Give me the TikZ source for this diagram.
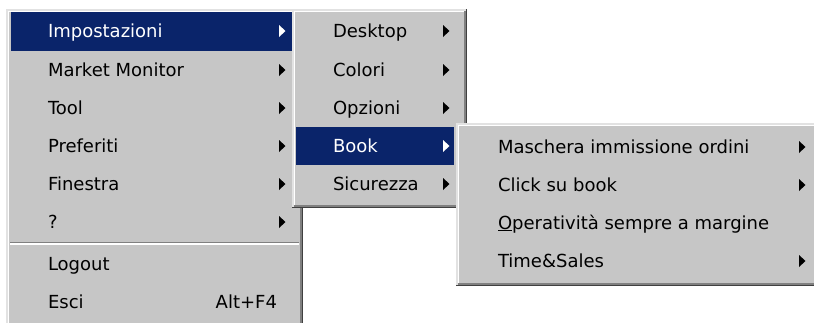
\documentclass[tikz,border=0pt]{standalone}
\usepackage{fontspec}
\setmainfont{DejaVu Sans}
\usetikzlibrary{positioning}
\definecolor{face}{HTML}{C6C6C6}
\definecolor{sel}{HTML}{0A246A}
\definecolor{midgrey}{HTML}{808080}
\definecolor{dark}{HTML}{404040}
\definecolor{lite}{HTML}{E2E2E2}

\begin{document}
\begin{tikzpicture}[
    x=1pt, y=-1pt,
    font=\fontsize{18}{21}\selectfont,
    item/.style={anchor=base west, inner sep=0pt, outer sep=0pt},
    keys/.style={anchor=base east, inner sep=0pt, outer sep=0pt},
    hilite/.style={fill=sel},
    panel/.style={fill=face},
    edge/.style={line width=1.5pt},
  ]
  \useasboundingbox (0,0) rectangle (814,322);
  \clip (0,0) rectangle (814,322);
  \fill[white] (0,0) rectangle (814,322);
  % ------------------------------------------------------------------ main menu
  \begin{scope}
    \fill[panel] (6,9) rectangle (303,340);
    \draw[edge, lite] (6.75,340) -- (6.75,9.75) -- (303,9.75);
    \draw[edge, white] (8.25,340) -- (8.25,11.25) -- (301.5,11.25);
    \draw[edge, dark] (302.25,9) -- (302.25,340);
    \draw[edge, midgrey] (300.75,10.5) -- (300.75,340);
    \fill[hilite] (11,12) rectangle (297,51);
    \foreach \t/\b/\c [count=\i] in {Impostazioni/37/white, Market Monitor/76/black,
        Tool/114/black, Preferiti/152/black, Finestra/190/black, ?/228/black} {
      \node[item, text=\c] (m\i) at (48,\b) {\t};
      \fill[\c] (279,\b-12) -- (285.5,\b-6) -- (279,\b) -- cycle;
    }
    \draw[edge, midgrey] (10,242.5) -- (299,242.5);
    \draw[edge, white] (10,244) -- (299,244);
    \node[item] (logout) at (48,270) {Logout};
    \node[item] (esci) at (48,308) {Esci};
    \node[keys] (esci key) at (277,308) {Alt+F4};
  \end{scope}
  % ------------------------------------------------------------------ Impostazioni submenu
  \begin{scope}
    \fill[panel] (292,9) rectangle (467,208);
    \draw[edge, lite] (292.75,208) -- (292.75,9.75) -- (467,9.75);
    \draw[edge, white] (294.25,206.5) -- (294.25,11.25) -- (465.5,11.25);
    \draw[edge, dark] (292,207.25) -- (466.25,207.25) -- (466.25,9);
    \draw[edge, midgrey] (293.5,205.75) -- (464.75,205.75) -- (464.75,10.5);
    \fill[hilite] (296,127) rectangle (454,165);
    \foreach \t/\b/\c [count=\i] in {Desktop/37/black, Colori/76/black,
        Opzioni/114/black, Book/152/white, Sicurezza/190/black} {
      \node[item, text=\c] (s\i) at (333,\b) {\t};
      \fill[\c] (443,\b-12) -- (449.5,\b-6) -- (443,\b) -- cycle;
    }
  \end{scope}
  % ------------------------------------------------------------------ Book submenu
  \begin{scope}
    \fill[panel] (456,123) rectangle (830,286);
    \draw[edge, lite] (456.75,286) -- (456.75,123.75) -- (830,123.75);
    \draw[edge, white] (458.25,284.5) -- (458.25,125.25) -- (830,125.25);
    \draw[edge, dark] (456,285.25) -- (830,285.25);
    \draw[edge, midgrey] (457.5,283.75) -- (830,283.75);
    \node[item] (b1) at (498,153) {Maschera immissione ordini};
    \node[item] (b2) at (498,191) {Click su book};
    \node[item] (b3) at (498,229) {\underline{O}peratività sempre a margine};
    \node[item] (b4) at (498,267) {Time\&Sales};
    \foreach \b in {153,191,267} {
      \fill (799,\b-12) -- (805.5,\b-6) -- (799,\b) -- cycle;
    }
  \end{scope}
\end{tikzpicture}
\end{document}
